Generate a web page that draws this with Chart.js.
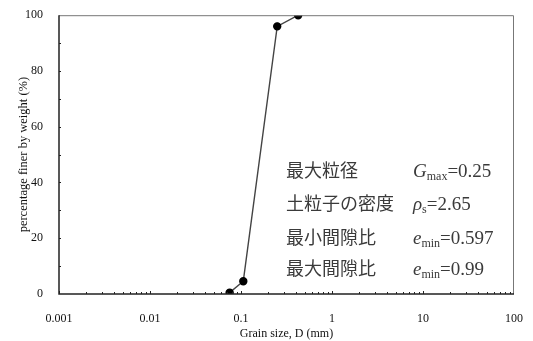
<!DOCTYPE html>
<html>
<head>
<meta charset="utf-8">
<script src="https://cdn.jsdelivr.net/npm/chart.js@4"></script>
<style>
  html, body { margin: 0; padding: 0; background: #fff; }
  #wrap { width: 533px; height: 341px; }
</style>
</head>
<body>
<div id="wrap"><canvas id="my-canvas" width="533" height="341"></canvas></div>
<script>
// grain size distribution (sieve data)
const grainSize = [0.075, 0.106, 0.25, 0.425];
const percentFiner = [0.5, 4.6, 96, 100];

const xDecades = [0.001, 0.01, 0.1, 1, 10, 100];
const yTicks = [0, 20, 40, 60, 80, 100];

const notesJa = ['最大粒径', '土粒子の密度', '最小間隙比', '最大間隙比'];
const notesSym = ['G', 'ρ', 'e', 'e'];
const notesSub = ['max', 's', 'min', 'min'];
const notesVal = ['=0.25', '=2.65', '=0.597', '=0.99'];

const SERIF = '"Liberation Serif", "Times New Roman", serif';
const JA = '"Noto Sans CJK JP", sans-serif';

const points = grainSize.map((d, i) => ({ x: d, y: percentFiner[i] }));

const isDecade = v => xDecades.some(d => Math.abs(v - d) / d < 1e-6);

// box + inward tick marks
const axesPlugin = {
  id: 'axesBox',
  afterDraw(chart) {
    const { ctx, chartArea: a, scales } = chart;
    ctx.save();
    ctx.strokeStyle = '#777';
    ctx.lineWidth = 1;
    ctx.beginPath();
    ctx.moveTo(a.left, a.top + 0.5);
    ctx.lineTo(a.right - 0.5, a.top + 0.5);
    ctx.lineTo(a.right - 0.5, a.bottom);
    ctx.stroke();

    ctx.strokeStyle = '#222';
    ctx.lineWidth = 1.5;
    ctx.beginPath();
    ctx.moveTo(a.left, a.top);
    ctx.lineTo(a.left, a.bottom);
    ctx.lineTo(a.right, a.bottom);
    ctx.stroke();

    ctx.lineWidth = 1;
    ctx.beginPath();
    for (let e = -3; e < 2; e++) {
      for (let m = 1; m <= 9; m++) {
        const v = m * Math.pow(10, e);
        const px = Math.round(scales.x.getPixelForValue(v)) + 0.5;
        const len = m === 1 ? 3 : 2;
        ctx.moveTo(px, a.bottom);
        ctx.lineTo(px, a.bottom - len);
      }
    }
    for (let v = 10; v < 100; v += 10) {
      const py = Math.round(scales.y.getPixelForValue(v)) + 0.5;
      ctx.moveTo(a.left, py);
      ctx.lineTo(a.left + 2, py);
    }
    ctx.stroke();
    ctx.restore();
  },
};

// property notes in lower right
const notesPlugin = {
  id: 'notes',
  afterDraw(chart) {
    const { ctx } = chart;
    const rows = [170, 203, 237, 268];
    const xJa = 286;
    const xSym = 413;
    ctx.save();
    ctx.fillStyle = '#3a3a3a';
    ctx.textBaseline = 'alphabetic';
    notesJa.forEach((txt, i) => {
      const base = rows[i] + 7;
      ctx.font = '18px ' + JA;
      ctx.fillText(txt, xJa, base);
      let x = xSym;
      ctx.font = 'italic 19px ' + SERIF;
      ctx.fillText(notesSym[i], x, base);
      x += ctx.measureText(notesSym[i]).width;
      ctx.font = '12px ' + SERIF;
      ctx.fillText(notesSub[i], x, base + 3);
      x += ctx.measureText(notesSub[i]).width;
      ctx.font = '19px ' + SERIF;
      ctx.fillText(notesVal[i], x, base);
    });
    ctx.restore();
  },
};

new Chart('my-canvas', {
  type: 'scatter',
  data: {
    datasets: [
      {
        data: points,
        showLine: true,
        borderColor: '#444',
        borderWidth: 1.4,
        pointBackgroundColor: '#000',
        pointBorderColor: '#000',
        pointRadius: 3.5,
        pointHoverRadius: 3.5,
      },
    ],
  },
  options: {
    responsive: false,
    animation: false,
    layout: { padding: { top: 13, right: 18, left: 16, bottom: 0 } },
    plugins: {
      legend: { display: false },
      tooltip: { enabled: false },
    },
    scales: {
      x: {
        type: 'logarithmic',
        min: 0.001,
        max: 100,
        border: { display: false },
        grid: { display: false },
        afterFit: s => { s.height = 47; },
        afterBuildTicks: s => {
          s.ticks = xDecades.map(v => ({ value: v }));
        },
        ticks: {
          autoSkip: false,
          maxRotation: 0,
          color: '#111',
          padding: 10,
          font: { family: SERIF, size: 12 },
          callback: v => (isDecade(v) ? String(v) : ''),
        },
        title: {
          display: true,
          text: 'Grain size, D (mm)',
          color: '#111',
          padding: { top: 2, bottom: 0 },
          font: { family: SERIF, size: 12 },
        },
      },
      y: {
        min: 0,
        max: 100,
        border: { display: false },
        grid: { display: false },
        afterFit: s => { s.width = 43; },
        afterBuildTicks: s => {
          s.ticks = yTicks.map(v => ({ value: v }));
        },
        ticks: {
          color: '#111',
          padding: 8,
          font: { family: SERIF, size: 12 },
        },
        title: {
          display: true,
          text: 'percentage finer by weight (%)',
          color: '#111',
          padding: { top: 0, bottom: 4 },
          font: { family: SERIF, size: 12.5 },
        },
      },
    },
  },
  plugins: [axesPlugin, notesPlugin],
});
</script>
</body>
</html>
